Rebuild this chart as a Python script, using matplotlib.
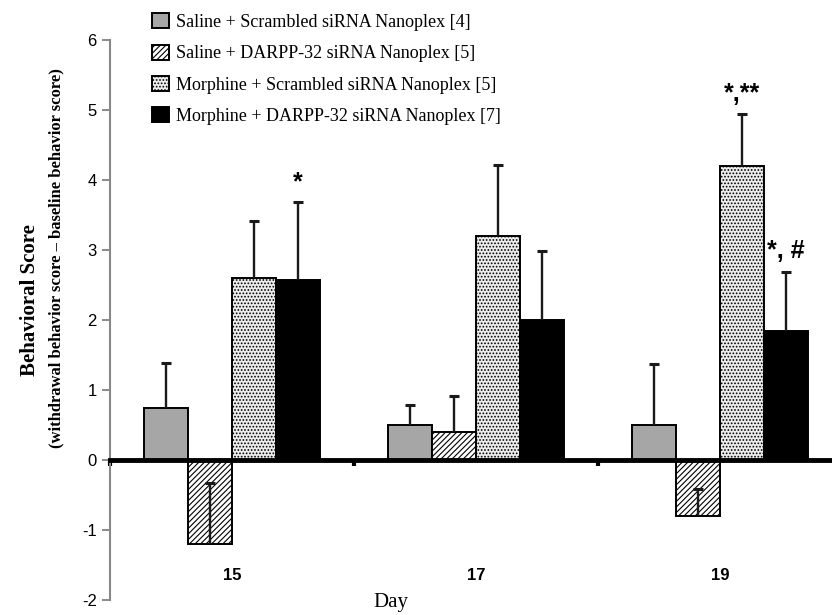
"""Behavioral score by day for the four nanoplex treatment groups."""

import numpy as np
import matplotlib
matplotlib.use('Agg')
import matplotlib.pyplot as plt
from matplotlib.patches import Patch

# data
days = ['15', '17', '19']
groups = [
    'Saline + Scrambled siRNA Nanoplex [4]',
    'Saline + DARPP-32 siRNA Nanoplex [5]',
    'Morphine + Scrambled siRNA Nanoplex [5]',
    'Morphine + DARPP-32 siRNA Nanoplex [7]',
]
saline_scr = [0.75, 0.50, 0.50]
saline_darpp = [-1.20, 0.40, -0.80]
morph_scr = [2.60, 3.20, 4.20]
morph_darpp = [2.57, 2.00, 1.85]

saline_scr_err = [0.63, 0.29, 0.87]
saline_darpp_err = [0.87, 0.51, 0.38]
morph_scr_err = [0.82, 1.02, 0.74]
morph_darpp_err = [1.11, 0.98, 0.84]

# (day index, group index, text)
annotations = [(0, 3, '*'), (2, 2, '*,**'), (2, 3, '*, #')]

values = [saline_scr, saline_darpp, morph_scr, morph_darpp]
errors = [saline_scr_err, saline_darpp_err, morph_scr_err, morph_darpp_err]

styles = [
    dict(facecolor='#a6a6a6', hatch=None),
    dict(facecolor='white', hatch='//////'),
    dict(facecolor='#ececec', hatch='.....'),
    dict(facecolor='black', hatch=None),
]

plt.rcParams['hatch.color'] = '#7a7a7a'
plt.rcParams['hatch.linewidth'] = 0.8
plt.rcParams['axes.unicode_minus'] = False

fig = plt.figure(figsize=(8.32, 6.15), dpi=100)
ax = fig.add_axes([110 / 832, 15 / 615, (832 - 110) / 832, 560 / 615])

bar_w = 0.18
x = np.arange(len(days)) + 0.5
for k, (vals, errs, st) in enumerate(zip(values, errors, styles)):
    pos = x + (k - 1.5) * bar_w
    ax.bar(pos, vals, width=bar_w, facecolor=st['facecolor'], hatch=st['hatch'],
           edgecolor='black', linewidth=1.4, zorder=2)
    eb = ax.errorbar(pos, vals, yerr=[np.zeros(len(errs)), errs], fmt='none',
                     ecolor='#1a1a1a', elinewidth=1.7, capsize=3.5, capthick=2.2, zorder=3)
    eb[1][0].set_visible(False)  # no cap at the bar end

for day_i, grp_i, txt in annotations:
    top = values[grp_i][day_i] + errors[grp_i][day_i]
    ax.text(x[day_i] + (grp_i - 1.5) * bar_w, top + 0.12, txt, ha='center', va='bottom',
            fontsize=18, fontweight='bold', family='Liberation Sans')

for xi, d in zip(x, days):
    ax.text(xi, -1.65, d, ha='center', va='center', fontsize=12, fontweight='bold',
            family='Liberation Sans')

ax.set_xlim(0, (832 - 110) / 244)
ax.set_ylim(-2, 6)
ax.set_yticks(range(-2, 7))
ax.tick_params(axis='y', colors='#777777', length=6, width=1.2, labelsize=12,
               labelcolor='black')
for lab in ax.get_yticklabels():
    lab.set_family('Liberation Sans')

ax.spines['top'].set_visible(False)
ax.spines['right'].set_visible(False)
ax.spines['left'].set_color('#888888')
ax.spines['left'].set_linewidth(1.5)
ax.spines['bottom'].set_position(('data', 0))
ax.spines['bottom'].set_linewidth(3.5)
ax.spines['bottom'].set_zorder(4)
ax.set_xticks([0, 1, 2])
ax.set_xticklabels([])
ax.tick_params(axis='x', length=4, width=3, direction='out', color='black')

fig.text(30 / 832, 1 - 300 / 615, 'Behavioral Score', rotation=90, ha='center', va='center',
         fontsize=15, fontweight='bold', family='Liberation Serif')
fig.text(56 / 832, 1 - 258 / 615, '(withdrawal behavior score \u2013 baseline behavior score)',
         rotation=90, ha='center', va='center', fontsize=12, fontweight='bold',
         family='Liberation Serif')
fig.text(391 / 832, 1 - 602 / 615, 'Day', ha='center', va='center', fontsize=15,
         family='Liberation Serif')

handles = [Patch(facecolor=st['facecolor'], hatch=st['hatch'], edgecolor='black',
                 linewidth=1.4) for st in styles]
fig.legend(handles, groups, loc='upper left', bbox_to_anchor=(136 / 832, 1 + 3 / 615),
           frameon=False, handlelength=0.9, handleheight=0.9, handletextpad=0.4,
           labelspacing=0.75, prop={'family': 'Liberation Serif', 'size': 13})

fig.savefig('out.png', dpi=100)
